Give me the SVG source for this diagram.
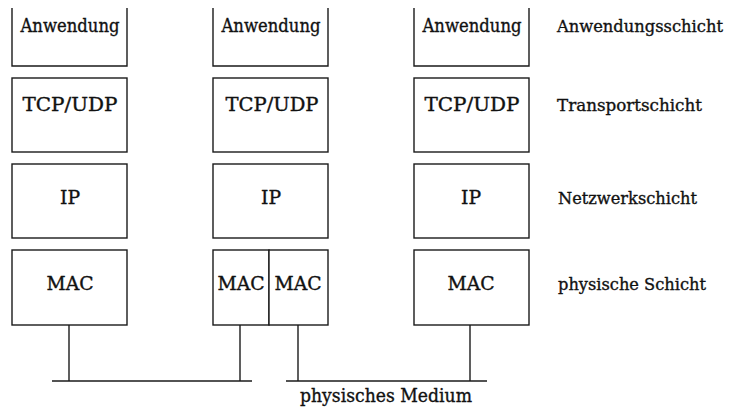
<svg xmlns="http://www.w3.org/2000/svg" width="730" height="410" viewBox="0 0 730 410">
  <style>
    .box { fill: #ffffff; stroke: #1a1a1a; stroke-width: 1.4; }
    .wire { fill: none; stroke: #1a1a1a; stroke-width: 1.4; }
    .t { font-family: "DejaVu Serif", "Liberation Serif", serif; font-size: 18px; fill: #111111; stroke: #111111; stroke-width: 0.35; }
    .lbl { font-size: 16.5px; }
    .c { text-anchor: middle; }
  </style>
  <rect width="730" height="410" fill="#ffffff"/>

  <!-- host A -->
  <g id="a-app"><path class="wire" d="M12,8 V66 H127 V8"/><text class="t c" x="70" y="32" textLength="99" lengthAdjust="spacingAndGlyphs">Anwendung</text></g>
  <g id="a-tcp"><rect class="box" x="12" y="78" width="115" height="74"/><text class="t c" x="70" y="111" textLength="95" lengthAdjust="spacingAndGlyphs">TCP/UDP</text></g>
  <g id="a-ip"><rect class="box" x="12" y="164" width="115" height="74"/><text class="t c" x="70" y="204" textLength="20" lengthAdjust="spacingAndGlyphs">IP</text></g>
  <g id="a-mac"><rect class="box" x="12" y="250" width="115" height="75"/><text class="t c" x="70" y="290" textLength="47" lengthAdjust="spacingAndGlyphs">MAC</text></g>

  <!-- router -->
  <g id="r-app"><path class="wire" d="M213,8 V66 H328 V8"/><text class="t c" x="271" y="32" textLength="99" lengthAdjust="spacingAndGlyphs">Anwendung</text></g>
  <g id="r-tcp"><rect class="box" x="213" y="78" width="115" height="74"/><text class="t c" x="272" y="111" textLength="93" lengthAdjust="spacingAndGlyphs">TCP/UDP</text></g>
  <g id="r-ip"><rect class="box" x="213" y="164" width="115" height="74"/><text class="t c" x="271" y="204" textLength="20" lengthAdjust="spacingAndGlyphs">IP</text></g>
  <g id="r-mac1"><rect class="box" x="213" y="250" width="56" height="75"/><text class="t c" x="241" y="290" textLength="47" lengthAdjust="spacingAndGlyphs">MAC</text></g>
  <g id="r-mac2"><rect class="box" x="269" y="250" width="59" height="75"/><text class="t c" x="298" y="290" textLength="47" lengthAdjust="spacingAndGlyphs">MAC</text></g>

  <!-- host B -->
  <g id="b-app"><path class="wire" d="M414,8 V66 H529 V8"/><text class="t c" x="472" y="32" textLength="99" lengthAdjust="spacingAndGlyphs">Anwendung</text></g>
  <g id="b-tcp"><rect class="box" x="414" y="78" width="115" height="74"/><text class="t c" x="472" y="111" textLength="95" lengthAdjust="spacingAndGlyphs">TCP/UDP</text></g>
  <g id="b-ip"><rect class="box" x="414" y="164" width="115" height="74"/><text class="t c" x="471" y="204" textLength="20" lengthAdjust="spacingAndGlyphs">IP</text></g>
  <g id="b-mac"><rect class="box" x="414" y="250" width="115" height="75"/><text class="t c" x="471" y="290" textLength="47" lengthAdjust="spacingAndGlyphs">MAC</text></g>

  <!-- layer names -->
  <g id="layer-labels">
    <text class="t lbl" x="557" y="32" textLength="166" lengthAdjust="spacingAndGlyphs">Anwendungsschicht</text>
    <text class="t lbl" x="557" y="111" textLength="145" lengthAdjust="spacingAndGlyphs">Transportschicht</text>
    <text class="t lbl" x="558" y="204" textLength="139" lengthAdjust="spacingAndGlyphs">Netzwerkschicht</text>
    <text class="t lbl" x="558" y="290" textLength="148" lengthAdjust="spacingAndGlyphs">physische Schicht</text>
  </g>

  <!-- links to the two media segments -->
  <g id="connectors">
    <path class="wire" d="M69,325 V381"/>
    <path class="wire" d="M240,325 V381"/>
    <path class="wire" d="M298,325 V381"/>
    <path class="wire" d="M470,325 V381"/>
    <path class="wire" d="M52,381 H252"/>
    <path class="wire" d="M286,381 H487"/>
  </g>
  <text class="t c" x="386" y="402" textLength="172" lengthAdjust="spacingAndGlyphs">physisches Medium</text>
</svg>
